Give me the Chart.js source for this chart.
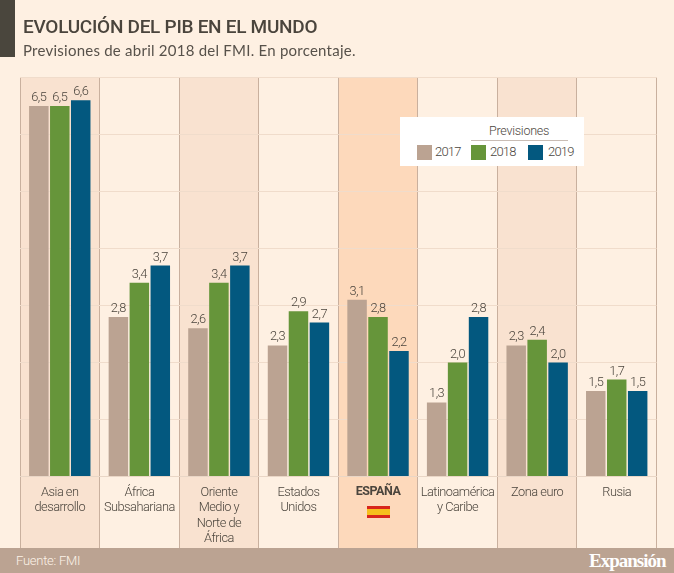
<!DOCTYPE html>
<html lang="es">
<head>
<meta charset="utf-8">
<style>
html,body{margin:0;padding:0;background:#fef0e2;overflow:hidden}
#wrap{position:relative;width:674px;height:573px;color:#4b453d;overflow:hidden}
canvas{position:absolute;left:0;top:0}
.abs{position:absolute;white-space:nowrap}
#bar{left:0;top:0;width:15px;height:57px;background:#4a463d}
#title{left:23px;top:14px;font:500 19px/26px Roboto,sans-serif;letter-spacing:-.28px;color:#4a443c}
#sub{left:23px;top:40px;font:400 15px/20px Lato,sans-serif;letter-spacing:.24px;color:#57514a}
#foot{left:0;top:548px;width:674px;height:25px;background:#bba392}
#src{left:16px;top:552px;font:300 13px/18px Roboto,sans-serif;letter-spacing:-.25px;color:#fdf3e8}
#brand{left:589px;top:548px;font:700 19px/25px "Liberation Serif",serif;letter-spacing:-1px;color:#fff}
#leg{left:400px;top:117px;width:184px;height:49px;background:#fff}
#legt{left:89px;top:5px;font:300 12.5px/18px Roboto,sans-serif;letter-spacing:-.25px}
#legl{left:71px;top:23px;width:97px;height:1px;background:#c9bdb5}
.sw{position:absolute;top:27.5px;width:15px;height:15px}
.lt{position:absolute;top:26px;font:300 13px/18px Roboto,sans-serif;letter-spacing:-.8px}
#flag{left:367px;top:506px;width:23px;height:12px;background:linear-gradient(#d8261c 0 25%,#f6bf1e 25% 75%,#d8261c 75%)}
</style>
</head>
<body>
<div id="wrap">
<canvas id="c" width="674" height="573"></canvas>
<div class="abs" id="bar"></div>
<div class="abs" id="title">EVOLUCIÓN DEL PIB EN EL MUNDO</div>
<div class="abs" id="sub">Previsiones de abril 2018 del FMI. En porcentaje.</div>
<div class="abs" id="leg"><div class="abs" id="legt">Previsiones</div><div class="abs" id="legl"></div></div>
<div class="abs" id="flag"></div>
<div class="abs" id="foot"></div>
<div class="abs" id="src">Fuente: FMI</div>
<div class="abs" id="brand">Expansión</div>
</div>
<script src="https://cdn.jsdelivr.net/npm/chart.js@4"></script>
<script>
const categories = [["Asia en","desarrollo"],["África","Subsahariana"],["Oriente","Medio y","Norte de","África"],["Estados","Unidos"],["ESPAÑA"],["Latinoamérica","y Caribe"],["Zona euro"],["Rusia"]];
const seriesNames = ["2017","2018","2019"];
const values2017 = [6.5,2.8,2.6,2.3,3.1,1.3,2.3,1.5];
const values2018 = [6.5,3.4,3.4,2.9,2.8,2.0,2.4,1.7];
const values2019 = [6.6,3.7,3.7,2.7,2.2,2.8,2.0,1.5];
const colors = ["#bba392","#66953a","#03587f"];
const legendLeft = [17,71,128];
const legendTextLeft = [35,90,148];

const leg = document.getElementById('leg');
seriesNames.forEach((n,i)=>{
  const s=document.createElement('div');s.className='sw';s.style.left=legendLeft[i]+'px';s.style.background=colors[i];leg.appendChild(s);
  const t=document.createElement('div');t.className='lt';t.style.left=legendTextLeft[i]+'px';t.textContent=n;leg.appendChild(t);
});

const bands = {
  id:'bands',
  beforeDraw(chart){
    const {ctx,chartArea:a,scales:{x}}=chart;
    ctx.letterSpacing='-0.5px';
    const w=x.getPixelForValue(1)-x.getPixelForValue(0);
    const bottom=548;
    ctx.save();
    categories.forEach((c,i)=>{
      const l=x.getPixelForValue(i)-w/2;
      if(i===4){
        ctx.fillStyle='#fdd9bb';ctx.fillRect(l,a.top,w,bottom-a.top);
      }else if(i%2===0){
        ctx.fillStyle='#f9e2d0';ctx.fillRect(l,a.top,w,bottom-a.top);
      }
    });
    ctx.strokeStyle='#c9b09e';ctx.lineWidth=1;
    for(let i=0;i<=categories.length;i++){
      const p=Math.floor(x.getPixelForValue(0)-w/2+i*w)+.5;
      ctx.beginPath();ctx.moveTo(p,a.top);ctx.lineTo(p,bottom);ctx.stroke();
    }
    ctx.restore();
  },
  afterDatasetsDraw(chart){
    const {ctx}=chart;
    ctx.save();
    ctx.font='300 12.8px Roboto,sans-serif';
    ctx.fillStyle='#4b453d';ctx.textAlign='center';ctx.textBaseline='alphabetic';
    chart.data.datasets.forEach((d,di)=>{
      chart.getDatasetMeta(di).data.forEach((el,i)=>{
        ctx.fillText(d.data[i].toFixed(1).replace('.',','),el.x,el.y-5);
      });
    });
    ctx.restore();
  }
};

new Chart(document.getElementById('c'),{
  type:'bar',
  data:{labels:categories,datasets:[
    {label:seriesNames[0],data:values2017,backgroundColor:colors[0]},
    {label:seriesNames[1],data:values2018,backgroundColor:colors[1]},
    {label:seriesNames[2],data:values2019,backgroundColor:colors[2]}
  ]},
  options:{
    responsive:false,animation:false,devicePixelRatio:1,
    layout:{padding:{left:20,right:17.5,top:77.5,bottom:25}},
    categoryPercentage:.79,barPercentage:.93,
    plugins:{legend:{display:false},title:{display:false},tooltip:{enabled:false}},
    scales:{
      x:{
        afterFit(s){s.height=71.5;},
        grid:{display:false},border:{color:'#e9d6c6'},
        ticks:{maxRotation:0,autoSkip:false,padding:0,color:'#4b453d',
          font:(c)=>c.index===4?{family:'Roboto,sans-serif',weight:'700',size:12.5,lineHeight:1.25}:{family:'Roboto,sans-serif',weight:'300',size:12.8,lineHeight:1.22}}
      },
      y:{
        min:0,max:7,
        afterFit(s){s.width=0;},
        ticks:{display:false,stepSize:1},
        border:{display:false},
        grid:{color:'#f0dccb',drawTicks:false}
      }
    }
  },
  plugins:[bands]
});
</script>
</body>
</html>
